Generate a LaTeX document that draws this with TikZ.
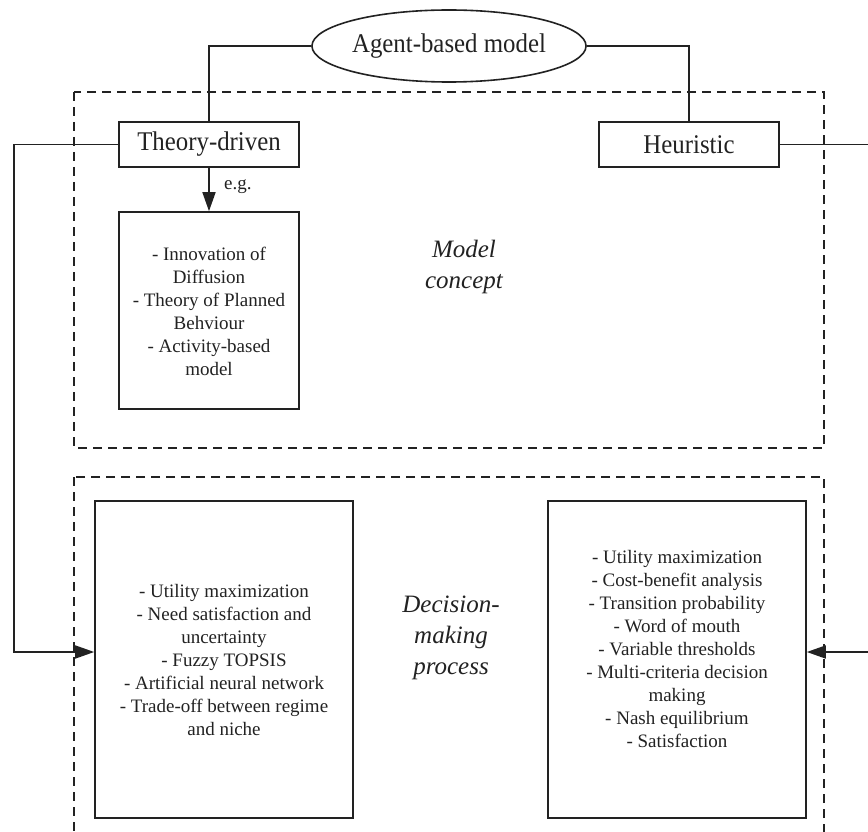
\documentclass[tikz,border=0pt]{standalone}
\usepackage{fontspec}
\setmainfont{Liberation Serif}
\newfontfamily\headfont[FakeStretch=0.92]{Liberation Serif}
\usetikzlibrary{arrows.meta,shapes.geometric}
\definecolor{ink}{HTML}{222222}
\begin{document}
\begin{tikzpicture}[x=1pt,y=-1pt,
  every node/.style={text=ink},
  ln/.style={draw=ink,line width=1.6pt},
  arr/.style={ln,-{Triangle[length=19pt,width=13pt]}},
  dashbox/.style={draw=ink,line width=1.5pt,dash pattern=on 9pt off 6pt},
  ell/.style={ellipse,draw=ink,line width=1.6pt,minimum width=240pt,minimum height=72pt,inner sep=0pt,font=\headfont\fontsize{27}{30}\selectfont},
  headbox/.style={rectangle,draw=ink,line width=1.6pt,minimum width=180pt,minimum height=45pt,inner sep=0pt,font=\headfont\fontsize{27}{30}\selectfont},
  listbox/.style={rectangle,draw=ink,line width=1.6pt,inner sep=0pt},
  txt/.style={align=center,inner sep=0pt,font=\fontsize{19}{23}\selectfont},
  ital/.style={align=center,inner sep=0pt,font=\fontsize{25}{31}\selectfont\itshape}]
\useasboundingbox (0,0) rectangle (868,832);
\fill[white] (0,0) rectangle (868,832);

% dashed frames
\draw[dashbox] (74,92) rectangle (824,448);
\draw[dashbox] (74,477) rectangle (824,850);

% nodes
\node[ell] (abm) at (449,46) {Agent-based model};
\node[headbox] (td) at (209,144.5) {Theory-driven};
\node[headbox] (he) at (689,144.5) {Heuristic};
\node[listbox,minimum width=180pt,minimum height=197pt] (b1) at (209,310.5) {};
\node[txt] (b1t) at (209,311) {- Innovation of\\Diffusion\\- Theory of Planned\\Behviour\\- Activity-based\\model};
\node[ital] (mc) at (464,267) {Model\\concept};

\node[listbox,minimum width=258pt,minimum height=317pt] (lb) at (224,659.5) {};
\node[txt] (lbt) at (224,660) {- Utility maximization\\- Need satisfaction and\\uncertainty\\- Fuzzy TOPSIS\\- Artificial neural network\\- Trade-off between regime\\and niche};
\node[listbox,minimum width=258pt,minimum height=317pt] (rb) at (677,659.5) {};
\node[txt] (rbt) at (677,649) {- Utility maximization\\- Cost-benefit analysis\\- Transition probability\\- Word of mouth\\- Variable thresholds\\- Multi-criteria decision\\making\\- Nash equilibrium\\- Satisfaction};
\node[ital] (dm) at (451,638) {Decision-\\making\\process};

% connectors
\draw[ln] (abm.west) -| (td.north);
\draw[ln] (abm.east) -| (he.north);
\draw[arr] (td.south) -- (b1.north);
\node[anchor=west,font=\fontsize{19}{23}\selectfont,inner sep=0pt] (eg) at (224,187) {e.g.};

\coordinate (ll) at (14,652);
\coordinate (rr) at (885,652);
\draw[arr] (td.west) -| (ll) -- (lb.west |- ll);
\draw[arr] (he.east) -| (rr) -- (rb.east |- rr);
\end{tikzpicture}
\end{document}
